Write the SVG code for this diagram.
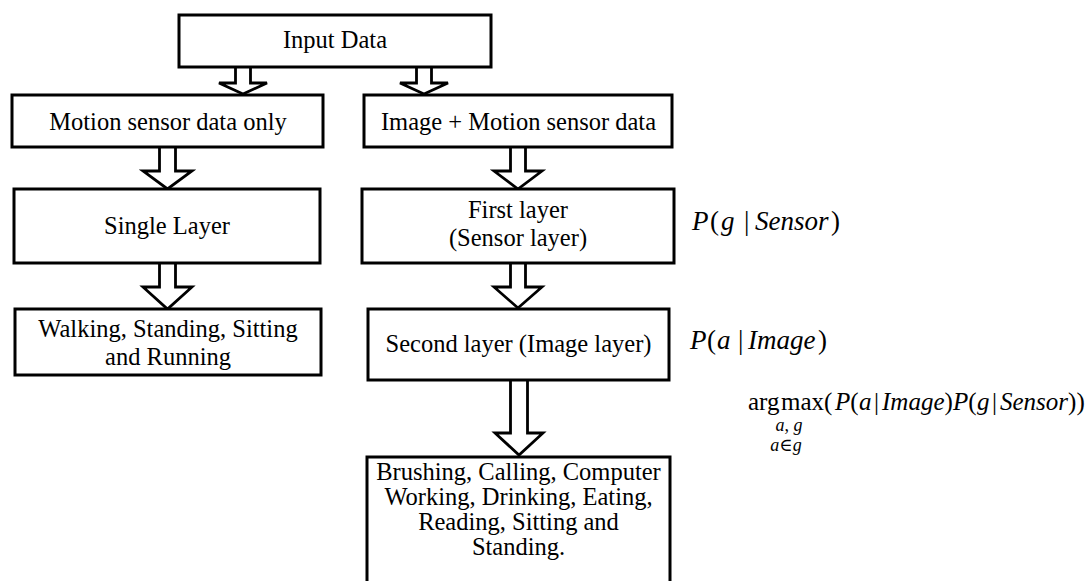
<svg xmlns="http://www.w3.org/2000/svg" width="1091" height="581" viewBox="0 0 1091 581">
  <style>
    .box { fill: #fff; stroke: #000; stroke-width: 3; }
    .arrow { fill: #fff; stroke: #000; stroke-width: 2.8; stroke-linejoin: miter; }
    .serif { font-family: "Liberation Serif", Tinos, "Times New Roman", "DejaVu Serif", serif; }
    .lbl { font-size: 24.5px; fill: #000; text-anchor: middle; }
    .math { font-size: 27px; fill: #000; }
    .it { font-style: italic; }
    .sub { font-size: 18px; font-style: italic; fill: #000; text-anchor: middle; }
  </style>
  <rect width="1091" height="581" fill="#fff"/>

  <!-- hollow block arrows between stages -->
  <g id="connectors">
    <path class="arrow" d="M235.5 67 V83 H219 L243 94 L267 83 H250.5 V67"/>
    <path class="arrow" d="M416.5 67 V83 H400 L424 94 L448 83 H431.5 V67"/>
    <path class="arrow" d="M159.5 147 V171 H143 L167.5 189 L192 171 H175.5 V147"/>
    <path class="arrow" d="M159.5 263 V287 H143 L167.5 309 L192 287 H175.5 V263"/>
    <path class="arrow" d="M510.5 147 V171 H494 L518 189 L542 171 H525.5 V147"/>
    <path class="arrow" d="M510.5 263 V287 H494 L518 308 L542 287 H525.5 V263"/>
    <path class="arrow" d="M510.5 380 V433 H495 L519 455 L543 433 H527.5 V380"/>
  </g>

  <g id="input-data">
    <rect class="box" x="179" y="15" width="312" height="52"/>
    <text class="serif lbl" x="335" y="48">Input Data</text>
  </g>

  <g id="motion-only">
    <rect class="box" x="12" y="95" width="311" height="52"/>
    <text class="serif lbl" x="168" y="130">Motion sensor data only</text>
  </g>

  <g id="image-motion">
    <rect class="box" x="364" y="95" width="308" height="52"/>
    <text class="serif lbl" x="518.5" y="130">Image + Motion sensor data</text>
  </g>

  <g id="single-layer">
    <rect class="box" x="14" y="189" width="306" height="74"/>
    <text class="serif lbl" x="167" y="234">Single Layer</text>
  </g>

  <g id="first-layer">
    <rect class="box" x="362" y="189" width="312" height="74"/>
    <text class="serif lbl" x="518" y="218">First layer</text>
    <text class="serif lbl" x="518" y="246">(Sensor layer)</text>
  </g>

  <g id="walking">
    <rect class="box" x="15" y="309" width="306" height="66"/>
    <text class="serif lbl" x="168" y="337">Walking, Standing, Sitting</text>
    <text class="serif lbl" x="168" y="365">and Running</text>
  </g>

  <g id="second-layer">
    <rect class="box" x="368" y="309" width="301" height="71"/>
    <text class="serif lbl" x="518.5" y="352">Second layer (Image layer)</text>
  </g>

  <g id="activities">
    <rect class="box" x="367" y="457" width="303" height="140"/>
    <text class="serif lbl" x="518.5" y="480">Brushing, Calling, Computer</text>
    <text class="serif lbl" x="518.5" y="505">Working, Drinking, Eating,</text>
    <text class="serif lbl" x="518.5" y="530">Reading, Sitting and</text>
    <text class="serif lbl" x="518.5" y="555">Standing.</text>
  </g>

  <!-- probability annotations -->
  <g id="p-sensor">
    <text class="serif math" y="230"><tspan class="it" x="692">P</tspan><tspan x="710">(</tspan><tspan class="it" x="721">g</tspan><tspan x="744">|</tspan><tspan class="it" x="755">Sensor</tspan><tspan x="831">)</tspan></text>
  </g>

  <g id="p-image">
    <text class="serif math" y="349"><tspan class="it" x="690">P</tspan><tspan x="707">(</tspan><tspan class="it" x="717">a</tspan><tspan x="738">|</tspan><tspan class="it" x="748">Image</tspan><tspan x="818">)</tspan></text>
  </g>

  <g id="argmax">
    <text class="serif math" y="410" style="font-size:25px"><tspan x="748">arg</tspan><tspan x="781">max</tspan><tspan x="824">(</tspan><tspan class="it" x="835">P</tspan><tspan x="850.3">(</tspan><tspan class="it" x="859">a</tspan><tspan x="874">|</tspan><tspan class="it" x="882">Image</tspan><tspan x="944.5">)</tspan><tspan class="it" x="953">P</tspan><tspan x="968.3">(</tspan><tspan class="it" x="977">g</tspan><tspan x="992">|</tspan><tspan class="it" x="1000">Sensor</tspan><tspan x="1068">)</tspan><tspan x="1076.5">)</tspan></text>
    <text class="serif sub" x="789" y="431">a<tspan style="font-style:normal">,</tspan> g</text>
    <text class="serif sub" x="786" y="451">a<tspan style="font-style:normal">∈</tspan>g</text>
  </g>
</svg>
